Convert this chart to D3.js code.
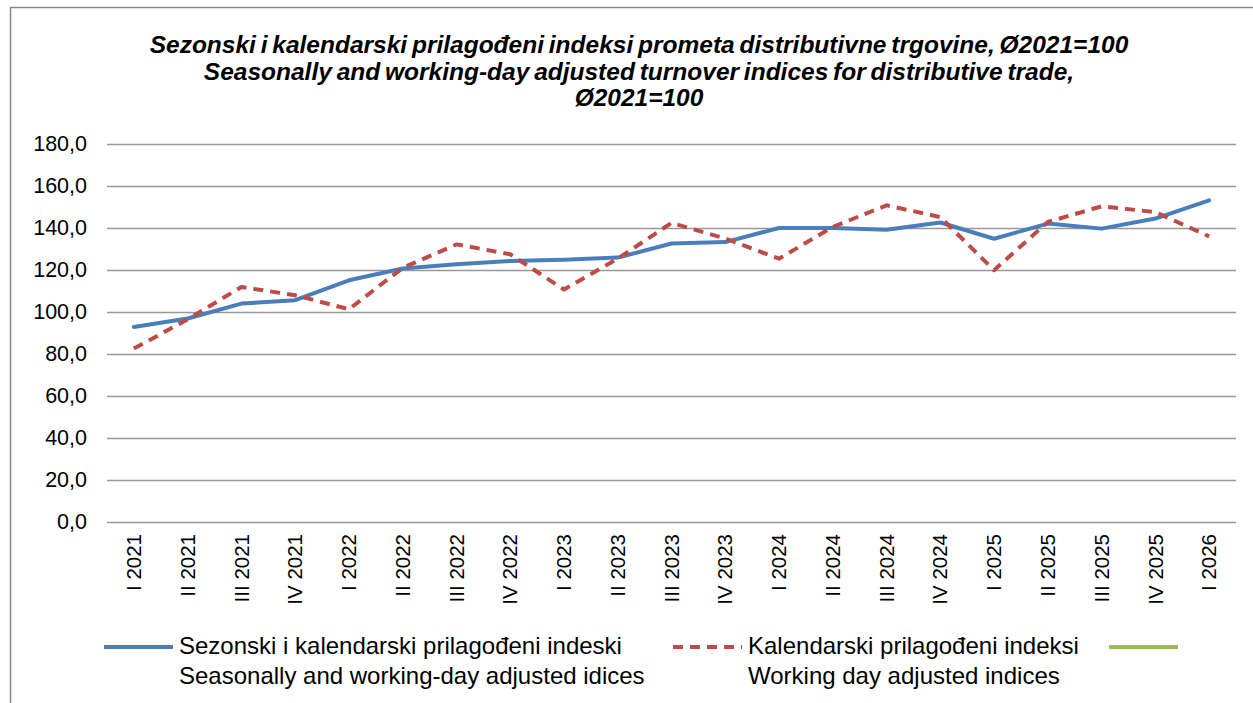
<!DOCTYPE html>
<html>
<head>
<meta charset="utf-8">
<script src="https://cdn.jsdelivr.net/npm/d3@7"></script>
<style>
  body { margin: 0; background: #fff; }
  text { font-family: "Liberation Sans", Arial, sans-serif; }
</style>
</head>
<body>
<div id="chart"></div>
<script>
var categories = ["I 2021", "II 2021", "III 2021", "IV 2021", "I 2022", "II 2022", "III 2022", "IV 2022",
  "I 2023", "II 2023", "III 2023", "IV 2023", "I 2024", "II 2024", "III 2024", "IV 2024",
  "I 2025", "II 2025", "III 2025", "IV 2025", "I 2026"];
var seasonal = [92.9, 96.9, 104.0, 105.6, 115.1, 120.7, 122.7, 124.3, 124.9, 125.9, 132.6, 133.3,
  140.0, 140.0, 139.2, 142.6, 134.9, 142.1, 139.7, 144.5, 153.2];
var workingDay = [82.6, 96.5, 111.9, 108.0, 101.3, 121.0, 132.2, 127.5, 110.7, 125.4, 142.4, 135.0,
  125.4, 140.5, 150.8, 145.2, 119.9, 142.9, 150.3, 147.6, 136.0];
var yTicks = [0, 20, 40, 60, 80, 100, 120, 140, 160, 180];
var titleLines = ["Sezonski i kalendarski prilagođeni indeksi prometa distributivne trgovine, Ø2021=100",
  "Seasonally and working-day adjusted turnover indices for distributive trade,",
  "Ø2021=100"];
var legendItems = [
  {label: ["Sezonski i kalendarski prilagođeni indeski", "Seasonally and working-day adjusted idices"], color: "#4a7ebb", dash: null},
  {label: ["Kalendarski prilagođeni indeksi", "Working day adjusted indices"], color: "#be4b48", dash: "10,7"},
  {label: [], color: "#9bbb59", dash: null}
];

var width = 1253, height = 703;
var margin = {top: 144, right: 17, bottom: 181, left: 107};

var svg = d3.select("#chart").append("svg")
  .attr("width", width)
  .attr("height", height);

// outer frame
svg.append("path")
  .attr("d", "M10.5," + height + "V7.5H" + width)
  .attr("fill", "none")
  .attr("stroke", "#888")
  .attr("stroke-width", 1.5);

var x = d3.scaleBand().domain(categories).range([margin.left, width - margin.right]);
var y = d3.scaleLinear().domain([0, 180]).range([height - margin.bottom, margin.top]);

var title = svg.append("g");
titleLines.forEach(function (t, i) {
  title.append("text")
    .attr("x", 639)
    .attr("y", 53 + i * 26.5)
    .attr("text-anchor", "middle")
    .style("font-size", "24.5px")
    .style("font-weight", "bold")
    .style("font-style", "italic")
    .style("word-spacing", "-2px")
    .text(t);
});

// y axis with gridlines
var yAxis = svg.append("g")
  .attr("transform", "translate(" + margin.left + ",0)")
  .call(d3.axisLeft(y).tickValues(yTicks)
    .tickSize(-(x.range()[1] - margin.left))
    .tickPadding(20)
    .tickFormat(function (d) { return d3.format(".1f")(d).replace(".", ","); }));
yAxis.select(".domain").remove();
yAxis.selectAll(".tick line").attr("stroke", "#999").attr("stroke-width", 1.5);
yAxis.selectAll(".tick text")
  .attr("fill", "#000")
  .style("font-size", "21.5px")
  .style("font-family", "'Liberation Sans', Arial, sans-serif");

// x axis labels
var xAxis = svg.append("g")
  .attr("transform", "translate(0," + y(0) + ")")
  .call(d3.axisBottom(x).tickSize(0));
xAxis.select(".domain").remove();
xAxis.selectAll(".tick text")
  .attr("fill", "#000")
  .attr("transform", "rotate(-90)")
  .attr("text-anchor", "end")
  .attr("x", -12)
  .attr("y", 0)
  .attr("dy", "0.35em")
  .style("font-size", "20.5px")
  .style("font-family", "'Liberation Sans', Arial, sans-serif");

var line = d3.line()
  .x(function (d, i) { return x(categories[i]) + x.bandwidth() / 2; })
  .y(function (d) { return y(d); });

svg.append("path")
  .datum(seasonal)
  .attr("fill", "none")
  .attr("stroke", "#4a7ebb")
  .attr("stroke-width", 4)
  .attr("stroke-linejoin", "round")
  .attr("stroke-linecap", "round")
  .attr("d", line);

svg.append("path")
  .datum(workingDay)
  .attr("fill", "none")
  .attr("stroke", "#be4b48")
  .attr("stroke-width", 4)
  .attr("stroke-dasharray", "10,7")
  .attr("stroke-linejoin", "round")
  .attr("d", line);

// legend
var legendX = [104, 673, 1109];
var legend = svg.append("g");
legendItems.forEach(function (item, i) {
  var g = legend.append("g").attr("transform", "translate(" + legendX[i] + ",647)");
  g.append("line")
    .attr("x1", 0).attr("x2", 69)
    .attr("stroke", item.color)
    .attr("stroke-width", 4)
    .attr("stroke-dasharray", item.dash);
  item.label.forEach(function (t, j) {
    g.append("text")
      .attr("x", 75)
      .attr("y", 7 + j * 30)
      .style("font-size", "24px")
      .attr("fill", "#000")
      .text(t);
  });
});
</script>
</body>
</html>
